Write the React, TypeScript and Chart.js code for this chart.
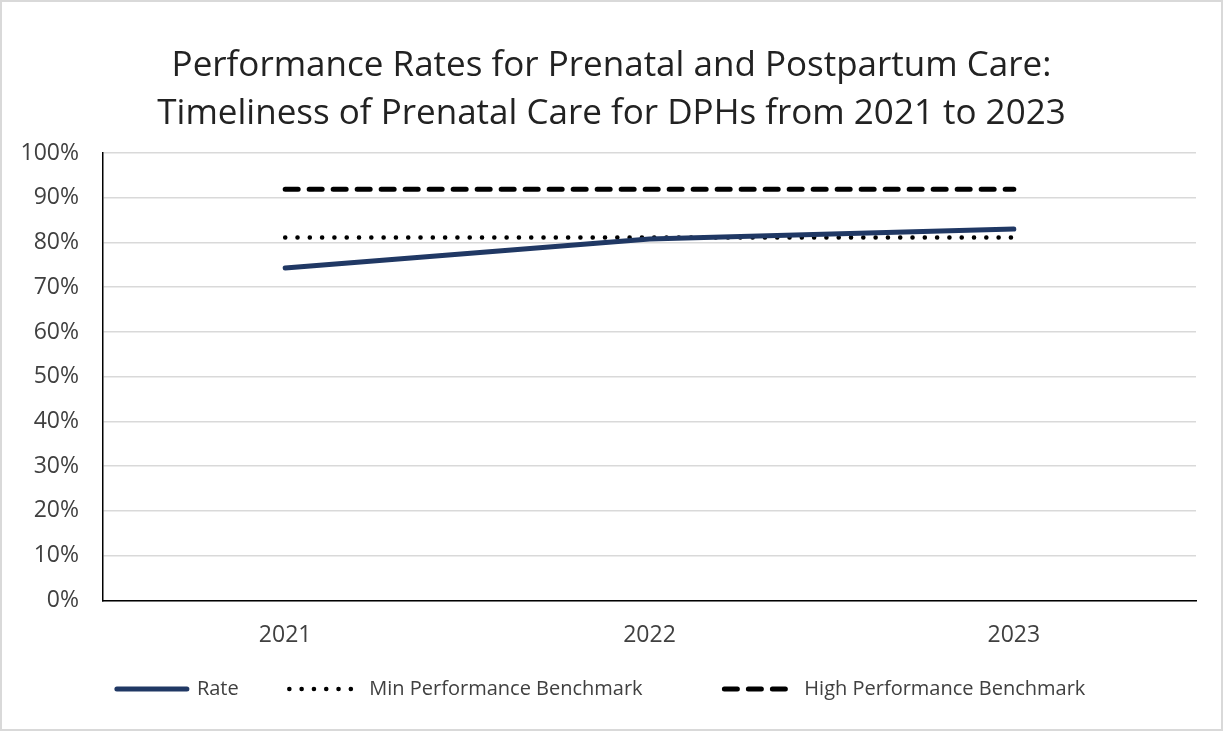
import React, { useEffect, useRef } from "react";
import { Chart, registerables } from "chart.js";

Chart.register(...registerables);

const years = ["2021", "2022", "2023"];
const rate = [74.3, 80.8, 83.0];
const minBenchmark = [81.1, 81.1, 81.1];
const highBenchmark = [91.9, 91.9, 91.9];
const seriesLabels = ["Rate", "Min Performance Benchmark", "High Performance Benchmark"];
const titleLines = [
  "Performance Rates for Prenatal and Postpartum Care:",
  "Timeliness of Prenatal Care for DPHs from 2021 to 2023",
];
const legendSpacers = ["        ", "              ", "    "];

const FONT = "'Open Sans', 'Noto Sans', sans-serif";
const TEXT = "#404040";
const SIDE_PAD = 10;

export default function App() {
  const ref = useRef<HTMLCanvasElement | null>(null);

  useEffect(() => {
    if (!ref.current) return;
    const chart = new Chart(ref.current, {
      type: "line",
      data: {
        labels: years,
        datasets: [
          {
            label: seriesLabels[0],
            data: rate,
            borderColor: "#203864",
            backgroundColor: "#203864",
            borderWidth: 5,
            borderCapStyle: "round",
            borderJoinStyle: "round",
            pointRadius: 0,
            pointStyle: "line",
            tension: 0,
          },
          {
            label: seriesLabels[1],
            data: minBenchmark,
            borderColor: "#000000",
            backgroundColor: "#000000",
            borderWidth: 4.5,
            borderDash: [0.1, 12.2],
            borderCapStyle: "round",
            pointRadius: 0,
            pointStyle: "line",
          },
          {
            label: seriesLabels[2],
            data: highBenchmark,
            borderColor: "#000000",
            backgroundColor: "#000000",
            borderWidth: 5,
            borderDash: [13, 11],
            borderCapStyle: "round",
            pointRadius: 0,
            pointStyle: "line",
          },
        ],
      },
      options: {
        responsive: true,
        maintainAspectRatio: false,
        animation: false,
        layout: { padding: { left: SIDE_PAD, right: SIDE_PAD, top: 0, bottom: 20 } },
        plugins: {
          tooltip: { enabled: false },
          title: {
            display: true,
            text: titleLines,
            color: "#222222",
            font: { family: FONT, size: 35, weight: "normal", lineHeight: 48 / 35 },
            padding: { top: 40, bottom: 15 },
          },
          legend: {
            display: true,
            position: "bottom",
            labels: {
              usePointStyle: true,
              pointStyleWidth: 70,
              padding: 9,
              color: TEXT,
              font: { family: FONT, size: 20 },
              generateLabels: (c: any) =>
                c.data.datasets.map((ds: any, i: number) => ({
                  text: ds.label + legendSpacers[i],
                  fillStyle: ds.borderColor,
                  strokeStyle: ds.borderColor,
                  lineWidth: ds.borderWidth,
                  lineDash: ds.borderDash || [],
                  lineCap: ds.borderCapStyle,
                  pointStyle: "line",
                  hidden: false,
                  datasetIndex: i,
                  fontColor: TEXT,
                })),
            },
          },
        },
        scales: {
          x: {
            offset: true,
            grid: { display: false, drawTicks: false },
            border: { display: true, color: "#000000", width: 1.5 },
            ticks: { padding: 21, color: TEXT, font: { family: FONT, size: 23 } },
          },
          y: {
            min: 0,
            max: 100,
            afterFit: (s: any) => {
              s.width = 101 - SIDE_PAD;
            },
            grid: { color: "#d9d9d9", lineWidth: 1.5, drawTicks: false },
            border: { display: true, color: "#000000", width: 1.5 },
            ticks: {
              stepSize: 10,
              padding: 24,
              color: TEXT,
              font: { family: FONT, size: 23 },
              callback: (v: any) => v + "%",
            },
          },
          yRightSpacer: {
            type: "linear",
            position: "right",
            display: true,
            min: 0,
            max: 100,
            grid: { display: false, drawTicks: false },
            border: { display: false },
            ticks: { display: false },
            afterFit: (s: any) => {
              s.width = 25 - SIDE_PAD;
            },
          },
        },
      },
    } as any);
    return () => chart.destroy();
  }, []);

  return (
    <div
      style={{
        position: "fixed",
        left: 0,
        top: 0,
        width: 1223,
        height: 731,
        border: "2px solid #d9d9d9",
        boxSizing: "border-box",
        background: "#ffffff",
      }}
    >
      <div style={{ position: "relative", width: "100%", height: "100%" }}>
        <canvas ref={ref} />
      </div>
    </div>
  );
}
